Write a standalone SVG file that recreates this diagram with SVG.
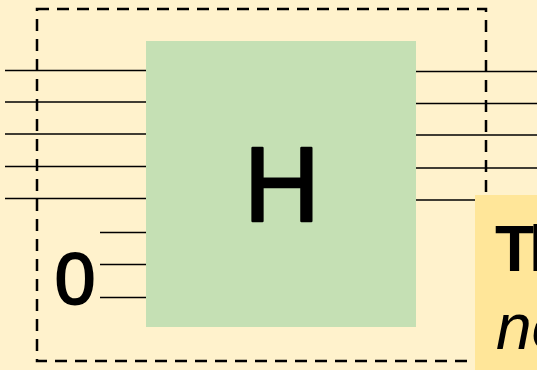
<svg xmlns="http://www.w3.org/2000/svg" width="537" height="370" viewBox="0 0 537 370">
  <style>
    .wire { stroke: #000; stroke-width: 1.5; fill: none; }
    .big { font-family: "Liberation Sans", Arial, sans-serif; fill: #000; }
    .heavy { stroke: #000; stroke-linejoin: round; }
  </style>
  <rect x="0" y="0" width="537" height="370" fill="#fff2cc"/>
  <g id="frame">
    <rect x="37" y="9" width="449" height="352" fill="none" stroke="#000" stroke-width="2.5" stroke-dasharray="12 8"/>
  </g>
  <g id="connectors">
    <line class="wire" x1="5" y1="70.5" x2="146" y2="70.5"/>
    <line class="wire" x1="5" y1="102" x2="146" y2="102"/>
    <line class="wire" x1="5" y1="134" x2="146" y2="134"/>
    <line class="wire" x1="5" y1="166.5" x2="146" y2="166.5"/>
    <line class="wire" x1="5" y1="198.5" x2="146" y2="198.5"/>
    <line class="wire" x1="100" y1="232.5" x2="146" y2="232.5"/>
    <line class="wire" x1="100" y1="264.5" x2="146" y2="264.5"/>
    <line class="wire" x1="100" y1="297.5" x2="146" y2="297.5"/>
    <line class="wire" x1="414" y1="71.5" x2="537" y2="71.5"/>
    <line class="wire" x1="414" y1="103.5" x2="537" y2="103.5"/>
    <line class="wire" x1="414" y1="135" x2="537" y2="135"/>
    <line class="wire" x1="414" y1="168" x2="537" y2="168"/>
    <line class="wire" x1="414" y1="200" x2="537" y2="200"/>
  </g>
  <g id="gate-H">
    <rect x="146" y="41" width="270" height="286" fill="#c5e0b4"/>
    <text class="big heavy" x="282" y="221" font-size="105" stroke-width="2.5" text-anchor="middle">H</text>
  </g>
  <g id="ancilla-0">
    <text class="big heavy" x="75" y="304" font-size="73" stroke-width="2" text-anchor="middle">0</text>
  </g>
  <g id="note">
    <rect x="475" y="195" width="70" height="180" fill="#ffe699"/>
    <text class="big" x="495" y="271" font-size="64" font-weight="bold" letter-spacing="-5">Th</text>
    <text class="big" x="496" y="349" font-size="64" font-style="italic">no</text>
  </g>
</svg>
